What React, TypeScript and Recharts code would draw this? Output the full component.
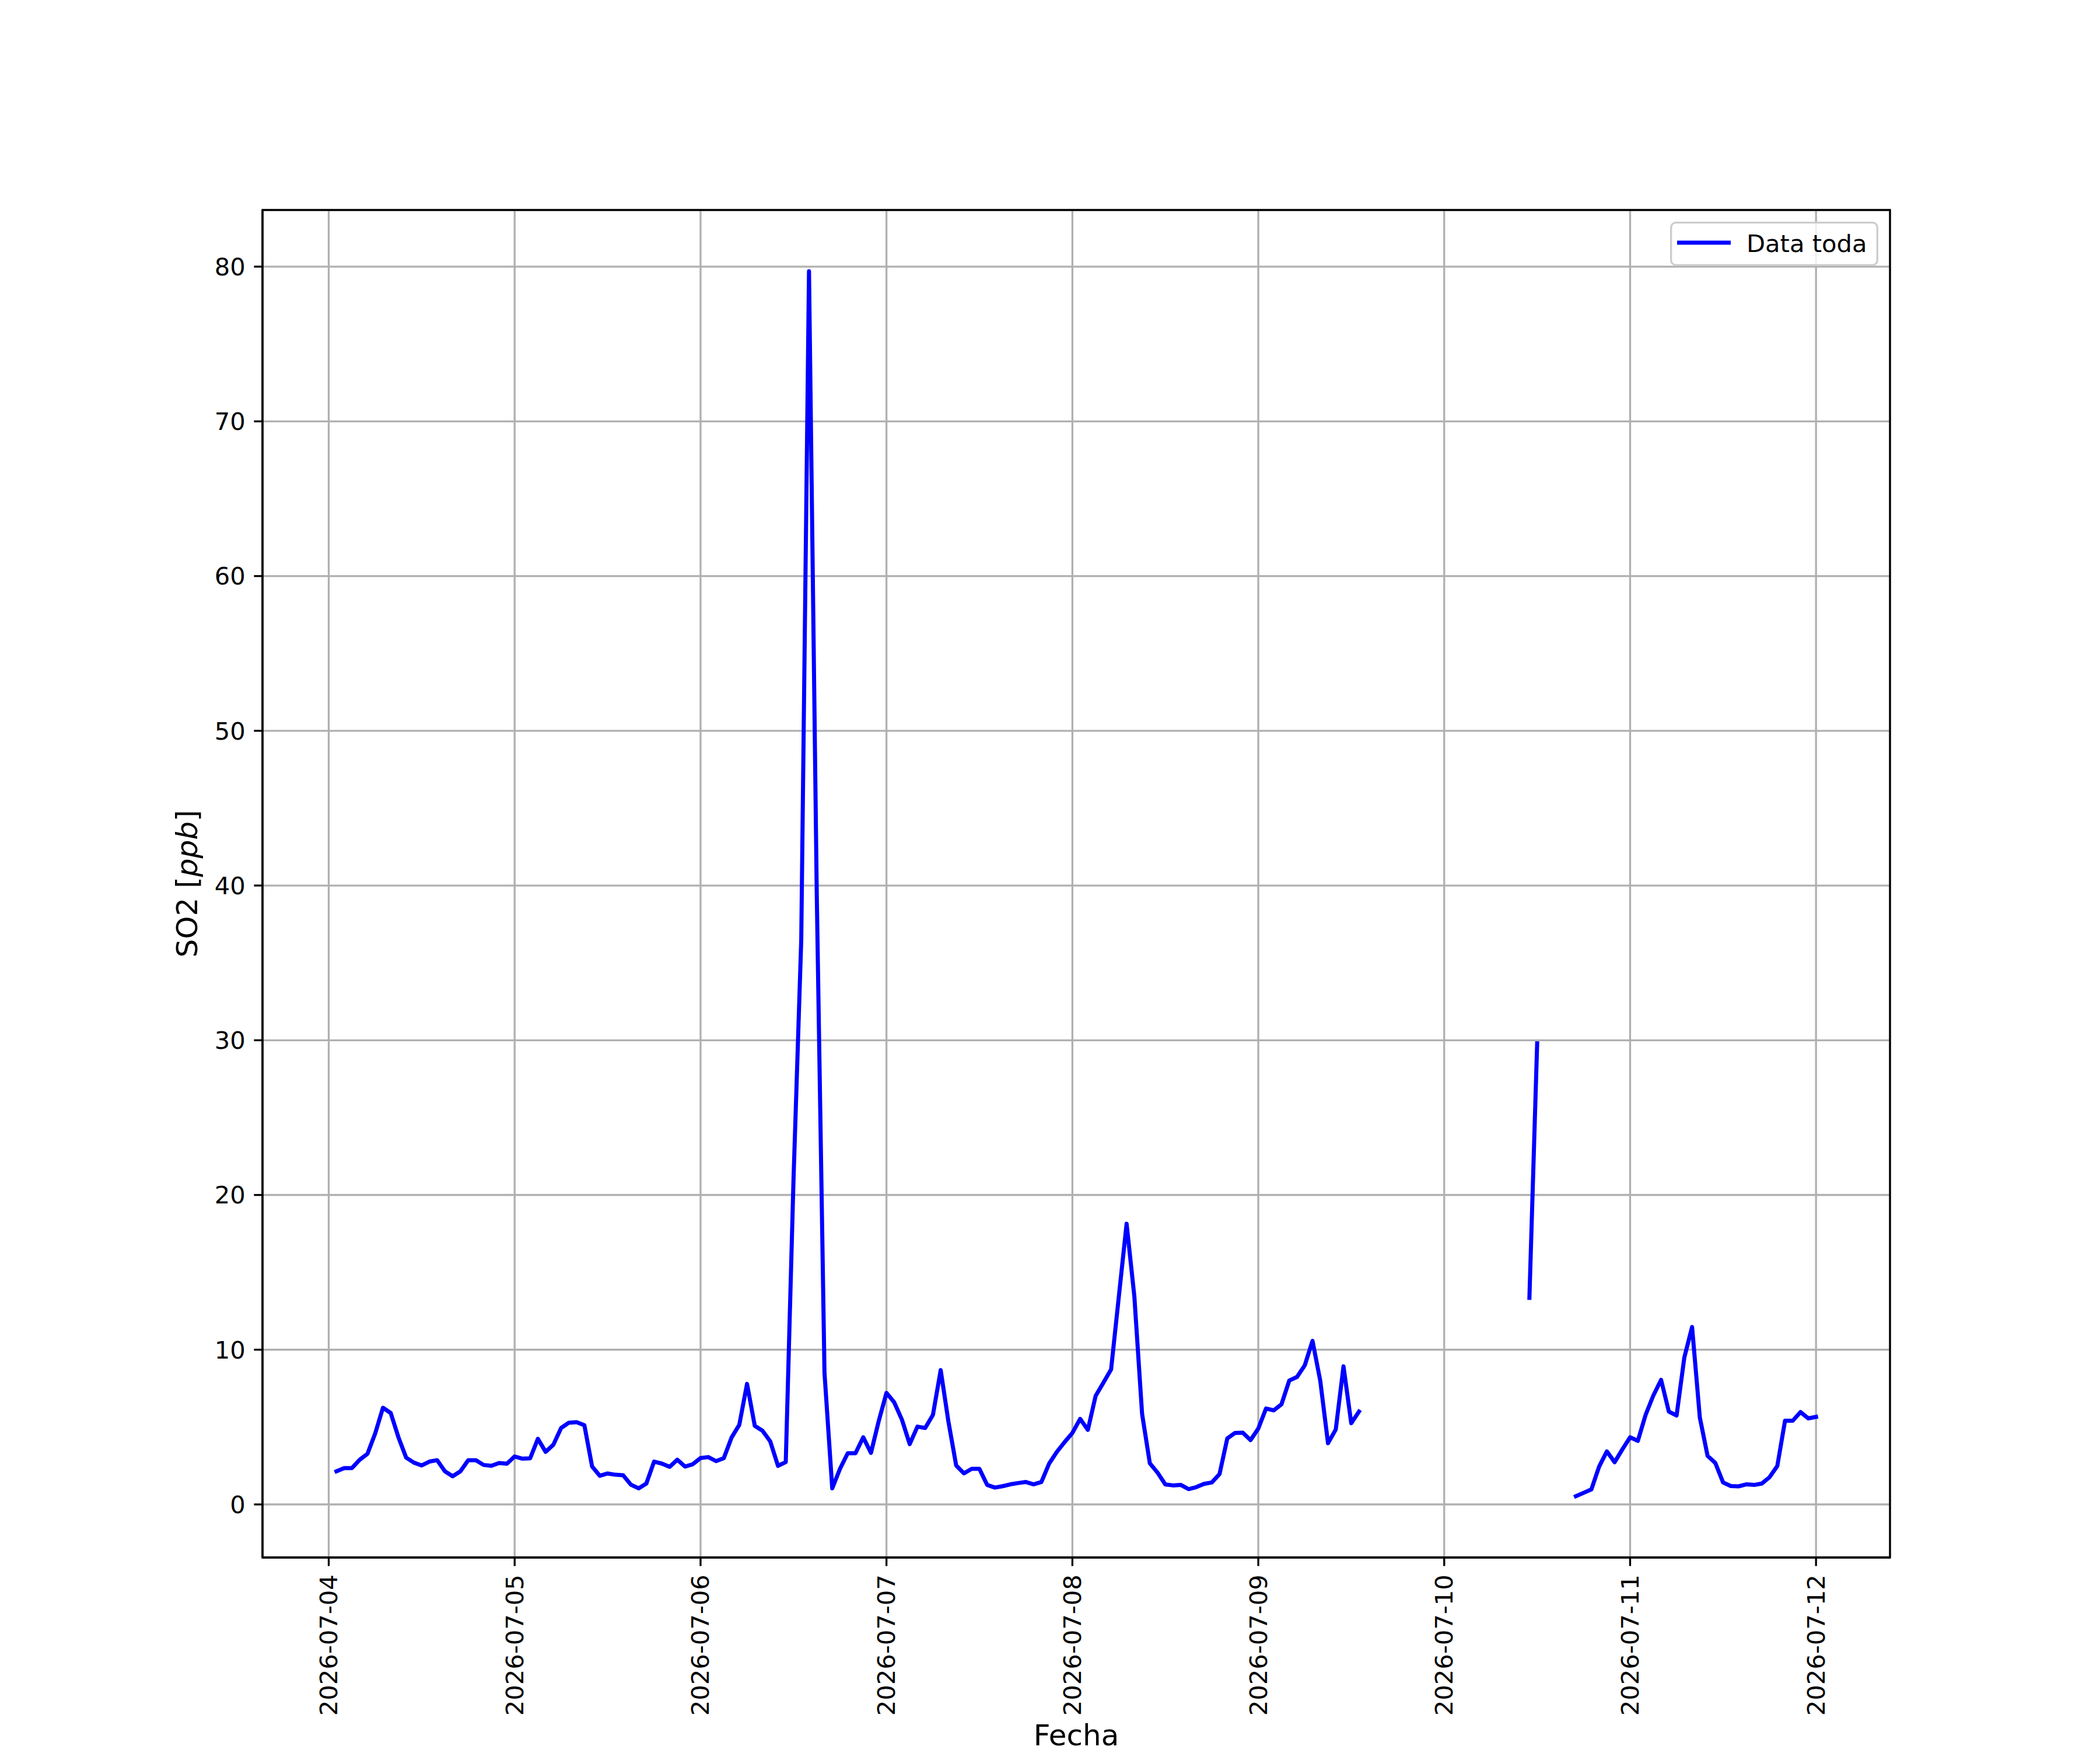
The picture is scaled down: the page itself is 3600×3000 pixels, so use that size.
import React from "react";
import {
  LineChart,
  Line,
  XAxis,
  YAxis,
  CartesianGrid,
  Legend,
  ReferenceArea,
} from "recharts";

// hourly SO2 [ppb], each day runs 01:00 .. 24:00 (null = no measurement)
const so2Jul04 = [
  2.14, 2.35, 2.35, 2.89, 3.27, 4.59, 6.25, 5.91, 4.34, 3.02, 2.7, 2.52,
  2.77, 2.86, 2.14, 1.82, 2.14, 2.86, 2.86, 2.55, 2.5, 2.68, 2.63, 3.1,
];
const so2Jul05 = [
  2.96, 2.98, 4.24, 3.4, 3.86, 4.94, 5.28, 5.32, 5.12, 2.45, 1.85, 2.0,
  1.92, 1.89, 1.28, 1.04, 1.35, 2.77, 2.64, 2.43, 2.89, 2.45, 2.6, 3.0,
];
const so2Jul06 = [
  3.06, 2.8, 2.99, 4.32, 5.14, 7.79, 5.08, 4.76, 4.07, 2.49, 2.74, 21.0,
  36.5, 79.7, 39.5, 8.5, 1.04, 2.3, 3.31, 3.31, 4.34, 3.33, 5.39, 7.21,
];
const so2Jul07 = [
  6.6, 5.47, 3.9, 5.03, 4.94, 5.79, 8.68, 5.35, 2.52, 2.01, 2.3, 2.3,
  1.26, 1.09, 1.18, 1.3, 1.38, 1.45, 1.3, 1.45, 2.64, 3.4, 4.03, 4.62,
];
const so2Jul08 = [
  5.53, 4.82, 7.01, 7.86, 8.73, 13.45, 18.14, 13.45, 5.85, 2.66, 2.05, 1.29,
  1.23, 1.26, 0.99, 1.12, 1.33, 1.42, 1.97, 4.27, 4.62, 4.64, 4.16, 4.9,
];
const so2Jul09 = [
  6.2, 6.08, 6.48, 8.01, 8.24, 8.99, 10.57, 7.99, 3.96, 4.84, 8.93, 5.25,
  6.0, null, null, null, null, null, null, null, null, null, null, null,
];
const so2Jul10 = [
  null, null, null, null, null, null, null, null, null, null, 13.35, 29.8,
  null, null, null, null, 0.53, 0.75, 0.97, 2.45, 3.43, 2.73, 3.56, 4.34,
];
const so2Jul11 = [
  4.11, 5.79, 7.04, 8.05, 6.0, 5.75, 9.5, 11.47, 5.62, 3.14, 2.68, 1.42,
  1.19, 1.17, 1.3, 1.26, 1.35, 1.76, 2.48, 5.41, 5.41, 5.97, 5.56, 5.66,
];

const dayLabels = [
  "2026-07-04",
  "2026-07-05",
  "2026-07-06",
  "2026-07-07",
  "2026-07-08",
  "2026-07-09",
  "2026-07-10",
  "2026-07-11",
  "2026-07-12",
];
const yTicks = [0, 10, 20, 30, 40, 50, 60, 70, 80];

const days = [so2Jul04, so2Jul05, so2Jul06, so2Jul07, so2Jul08, so2Jul09, so2Jul10, so2Jul11];
const data = days.flat().map((v, i) => ({ hour: i + 1, so2: v }));
const xTicks = dayLabels.map((_, i) => i * 24);

const X_DOMAIN: [number, number] = [-8.55, 201.55];
const Y_DOMAIN: [number, number] = [-3.43, 83.66];

const FONT = "DejaVu Sans";
const PT = 300 / 72; // matplotlib points -> px at 300 dpi
const LINE_W = 7;

function DateTick({ x, y, payload }: any) {
  return (
    <text
      x={x}
      y={y}
      transform={`rotate(-90, ${x}, ${y})`}
      textAnchor="end"
      dominantBaseline="central"
      fontSize={10 * PT}
      fontFamily={FONT}
      fill="#000"
    >
      {dayLabels[Math.round(payload.value / 24)]}
    </text>
  );
}

const yTitle = () => (
  <text
    x={338}
    y={1515}
    transform="rotate(-90, 338, 1515)"
    textAnchor="middle"
    fontSize={12 * PT}
    fontFamily={FONT}
    fill="#000"
  >
    SO2 [<tspan fontStyle="italic">ppb</tspan>]
  </text>
);

const xTitle = () => (
  <text x={1845} y={2992} textAnchor="middle" fontSize={12 * PT} fontFamily={FONT} fill="#000">
    Fecha
  </text>
);

const legendBox = () => (
  <svg width={357} height={76} style={{ display: "block" }}>
    <rect
      x={1.7}
      y={1.7}
      width={353.6}
      height={72.6}
      rx={8}
      fill="#ffffff"
      fillOpacity={0.8}
      stroke="#cccccc"
      strokeWidth={3.3}
    />
    <line x1={12} y1={36} x2={104} y2={36} stroke="#0000ff" strokeWidth={LINE_W} />
    <text x={131} y={51.5} fontSize={10 * PT} fontFamily={FONT} fill="#000">
      Data toda
    </text>
  </svg>
);

export default function App() {
  return (
    <div style={{ position: "absolute", left: 0, top: 0, background: "#fff" }}>
      <LineChart
        width={3600}
        height={3000}
        data={data}
        margin={{ top: 360, right: 360, bottom: 30, left: 320 }}
      >
        <CartesianGrid stroke="#b0b0b0" strokeWidth={3.33} />
        <XAxis
          dataKey="hour"
          type="number"
          domain={X_DOMAIN}
          allowDataOverflow
          ticks={xTicks}
          interval={0}
          height={300}
          tick={<DateTick />}
          tickSize={14.6}
          tickMargin={14.6}
          tickLine={{ stroke: "#000", strokeWidth: 3.33 }}
          axisLine={{ stroke: "#000", strokeWidth: 3.33 }}
          label={xTitle}
        />
        <YAxis
          type="number"
          domain={Y_DOMAIN}
          allowDataOverflow
          ticks={yTicks}
          interval={0}
          width={130}
          tick={{ fontSize: 10 * PT, fontFamily: FONT, fill: "#000" }}
          tickSize={14.6}
          tickMargin={14.6}
          tickLine={{ stroke: "#000", strokeWidth: 3.33 }}
          axisLine={{ stroke: "#000", strokeWidth: 3.33 }}
          label={yTitle}
        />
        <Line
          type="linear"
          dataKey="so2"
          name="Data toda"
          stroke="#0000ff"
          strokeWidth={LINE_W}
          strokeLinecap="square"
          strokeLinejoin="round"
          dot={false}
          activeDot={false}
          connectNulls={false}
          isAnimationActive={false}
        />
        <ReferenceArea
          x1={X_DOMAIN[0]}
          x2={X_DOMAIN[1]}
          y1={Y_DOMAIN[0]}
          y2={Y_DOMAIN[1]}
          fill="none"
          fillOpacity={0}
          stroke="#000"
          strokeWidth={3.33}
        />
        <Legend
          layout="horizontal"
          verticalAlign="middle"
          align="center"
          wrapperStyle={{ left: 2863, top: 380, width: 357, height: 76 }}
          content={legendBox}
        />
      </LineChart>
    </div>
  );
}
